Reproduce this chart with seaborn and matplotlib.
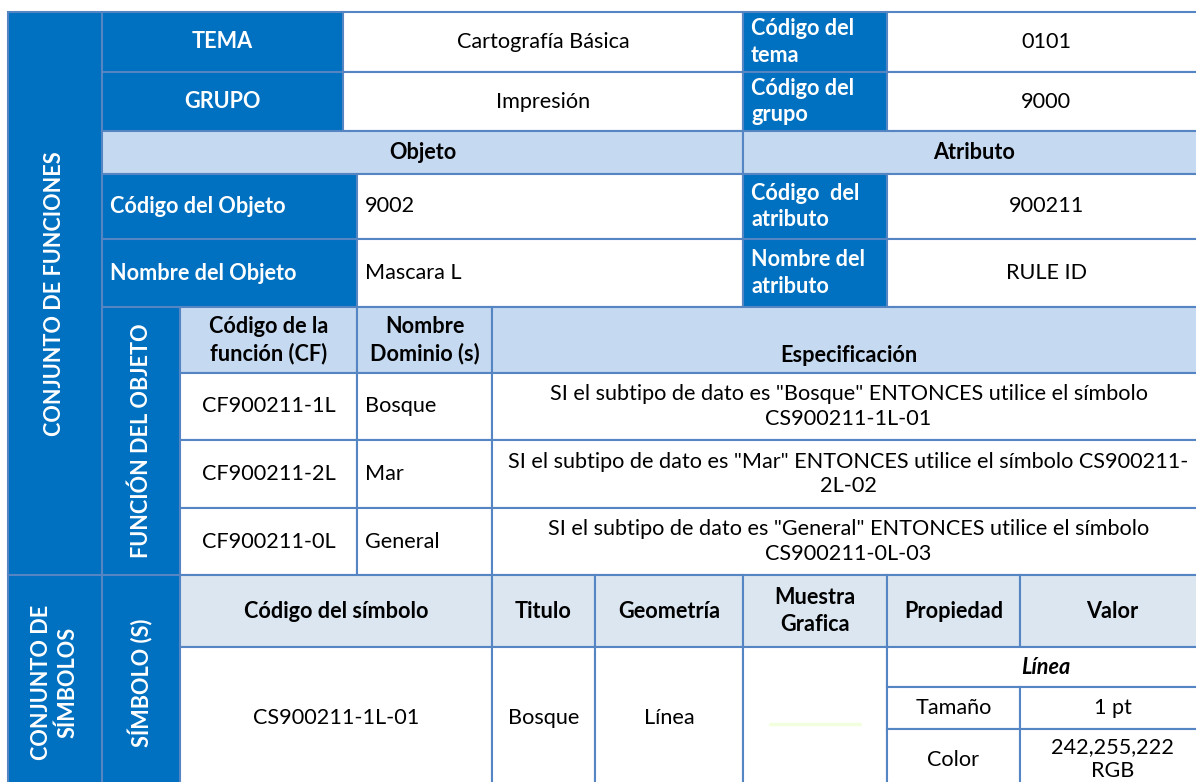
import matplotlib
matplotlib.use("Agg")
import matplotlib.pyplot as plt
import seaborn as sns
from matplotlib.patches import Rectangle

# ---- table contents ----
theme_labels = ["TEMA", "GRUPO"]
theme_values = ["Cartografía Básica", "Impresión"]
code_labels = ["Código del\ntema", "Código del\ngrupo"]
code_values = ["0101", "9000"]
section_headers = ["Objeto", "Atributo"]
object_labels = ["Código del Objeto", "Nombre del Objeto"]
object_values = ["9002", "Mascara L"]
attr_labels = ["Código  del\natributo", "Nombre del\natributo"]
attr_values = ["900211", "RULE ID"]
func_headers = ["Código de la\nfunción (CF)", "Nombre\nDominio (s)", "Especificación"]
func_codes = ["CF900211-1L", "CF900211-2L", "CF900211-0L"]
domains = ["Bosque", "Mar", "General"]
specs = [
    'SI el subtipo de dato es "Bosque" ENTONCES utilice el símbolo\nCS900211-1L-01',
    'SI el subtipo de dato es "Mar" ENTONCES utilice el símbolo CS900211-\n2L-02',
    'SI el subtipo de dato es "General" ENTONCES utilice el símbolo\nCS900211-0L-03',
]
symbol_headers = ["Código del símbolo", "Titulo", "Geometría", "Muestra\nGrafica", "Propiedad", "Valor"]
symbol_row = ["CS900211-1L-01", "Bosque", "Línea"]
style_group = "Línea"
properties = ["Tamaño", "Color"]
prop_values = ["1 pt", "242,255,222\nRGB"]
sample_rgb = (242, 255, 222)

# ---- layout (pixels) ----
X = [8, 102, 180, 343, 357, 492, 595, 743, 887, 1020, 1205]
Y = [12, 72, 131, 174, 239, 307, 373, 440, 508, 575, 647, 687, 729, 800]

DARK = "#0070C0"
LIGHT = "#C5D9F1"
PALE = "#DCE6F1"
EDGE = "#5585C2"
FS = 15.6

sns.set_theme(style="white")
plt.rcParams["font.family"] = ["Lato", "DejaVu Sans"]

fig = plt.figure(figsize=(11.96, 7.82), dpi=100)
ax = fig.add_axes([0, 0, 1, 1])
ax.set_xlim(0, 1196)
ax.set_ylim(782, 0)
ax.axis("off")


def cell(x0, x1, y0, y1, face="white", text=None, color="black", bold=False,
         ha="center", pad=8, rot=0, italic=False, ty=None):
    ax.add_patch(Rectangle((x0, y0), x1 - x0, y1 - y0, facecolor=face,
                           edgecolor=EDGE, linewidth=1.5))
    if text is None:
        return
    tx = (x0 + x1) / 2 if ha == "center" else x0 + pad
    yy = (y0 + y1) / 2 if ty is None else ty
    ax.text(tx, yy, text, ha=ha, va="center", color=color, fontsize=FS,
            fontweight="bold" if bold else "normal",
            fontstyle="italic" if italic else "normal",
            rotation=rot, linespacing=1.3, multialignment=ha)


# big left labels
cell(X[0], X[1], Y[0], Y[9], DARK, "CONJUNTO DE FUNCIONES", "white", True, rot=90)
cell(X[0], X[1], Y[9], Y[13], DARK, "CONJUNTO DE\nSÍMBOLOS", "white", True, rot=90,
     ty=682)

# theme / group rows
for i in range(2):
    cell(X[1], X[3], Y[i], Y[i + 1], DARK, theme_labels[i], "white", True)
    cell(X[3], X[7], Y[i], Y[i + 1], "white", theme_values[i])
    cell(X[7], X[8], Y[i], Y[i + 1], DARK, code_labels[i], "white", True, ha="left")
    cell(X[8], X[10], Y[i], Y[i + 1], "white", code_values[i])

# objeto / atributo header
cell(X[1], X[7], Y[2], Y[3], LIGHT, section_headers[0], bold=True)
cell(X[7], X[10], Y[2], Y[3], LIGHT, section_headers[1], bold=True)

# object rows
for i in range(2):
    r0, r1 = Y[3 + i], Y[4 + i]
    cell(X[1], X[4], r0, r1, DARK, object_labels[i], "white", True, ha="left")
    cell(X[4], X[7], r0, r1, "white", object_values[i], ha="left")
    cell(X[7], X[8], r0, r1, DARK, attr_labels[i], "white", True, ha="left")
    cell(X[8], X[10], r0, r1, "white", attr_values[i])

# function block
cell(X[1], X[2], Y[5], Y[9], DARK, "FUNCIÓN DEL OBJETO", "white", True, rot=90)
cell(X[2], X[4], Y[5], Y[6], LIGHT, func_headers[0], bold=True)
cell(X[4], X[5], Y[5], Y[6], LIGHT, func_headers[1], bold=True)
cell(X[5], X[10], Y[5], Y[6], LIGHT, func_headers[2], bold=True, ty=355)
for i in range(3):
    r0, r1 = Y[6 + i], Y[7 + i]
    cell(X[2], X[4], r0, r1, "white", func_codes[i])
    cell(X[4], X[5], r0, r1, "white", domains[i], ha="left")
    cell(X[5], X[10], r0, r1, "white", specs[i])

# symbol block
cell(X[1], X[2], Y[9], Y[13], DARK, "SÍMBOLO (S)", "white", True, rot=90, ty=683)
sym_cols = [(X[2], X[5]), (X[5], X[6]), (X[6], X[7]), (X[7], X[8]), (X[8], X[9]), (X[9], X[10])]
for (c0, c1), h in zip(sym_cols, symbol_headers):
    cell(c0, c1, Y[9], Y[10], PALE, h, bold=True)
for (c0, c1), v in zip(sym_cols[:3], symbol_row):
    cell(c0, c1, Y[10], Y[13], "white", v, ty=718)
cell(X[7], X[8], Y[10], Y[13], "white")
sx = [(X[7] + X[8]) / 2 - 45, (X[7] + X[8]) / 2 + 45]
sns.lineplot(x=sx, y=[724, 724], ax=ax, color=[c / 255 for c in sample_rgb],
             linewidth=2.5, legend=False)
cell(X[8], X[10], Y[10], Y[11], "white", style_group, bold=True, italic=True)
for i in range(2):
    cell(X[8], X[9], Y[11 + i], Y[12 + i], "white", properties[i],
         ty=760 if i == 1 else None)
    cell(X[9], X[10], Y[11 + i], Y[12 + i], "white", prop_values[i],
         ty=759 if i == 1 else None)

ax.set_xlim(0, 1196)
ax.set_ylim(782, 0)
fig.savefig("out.png", dpi=100)
